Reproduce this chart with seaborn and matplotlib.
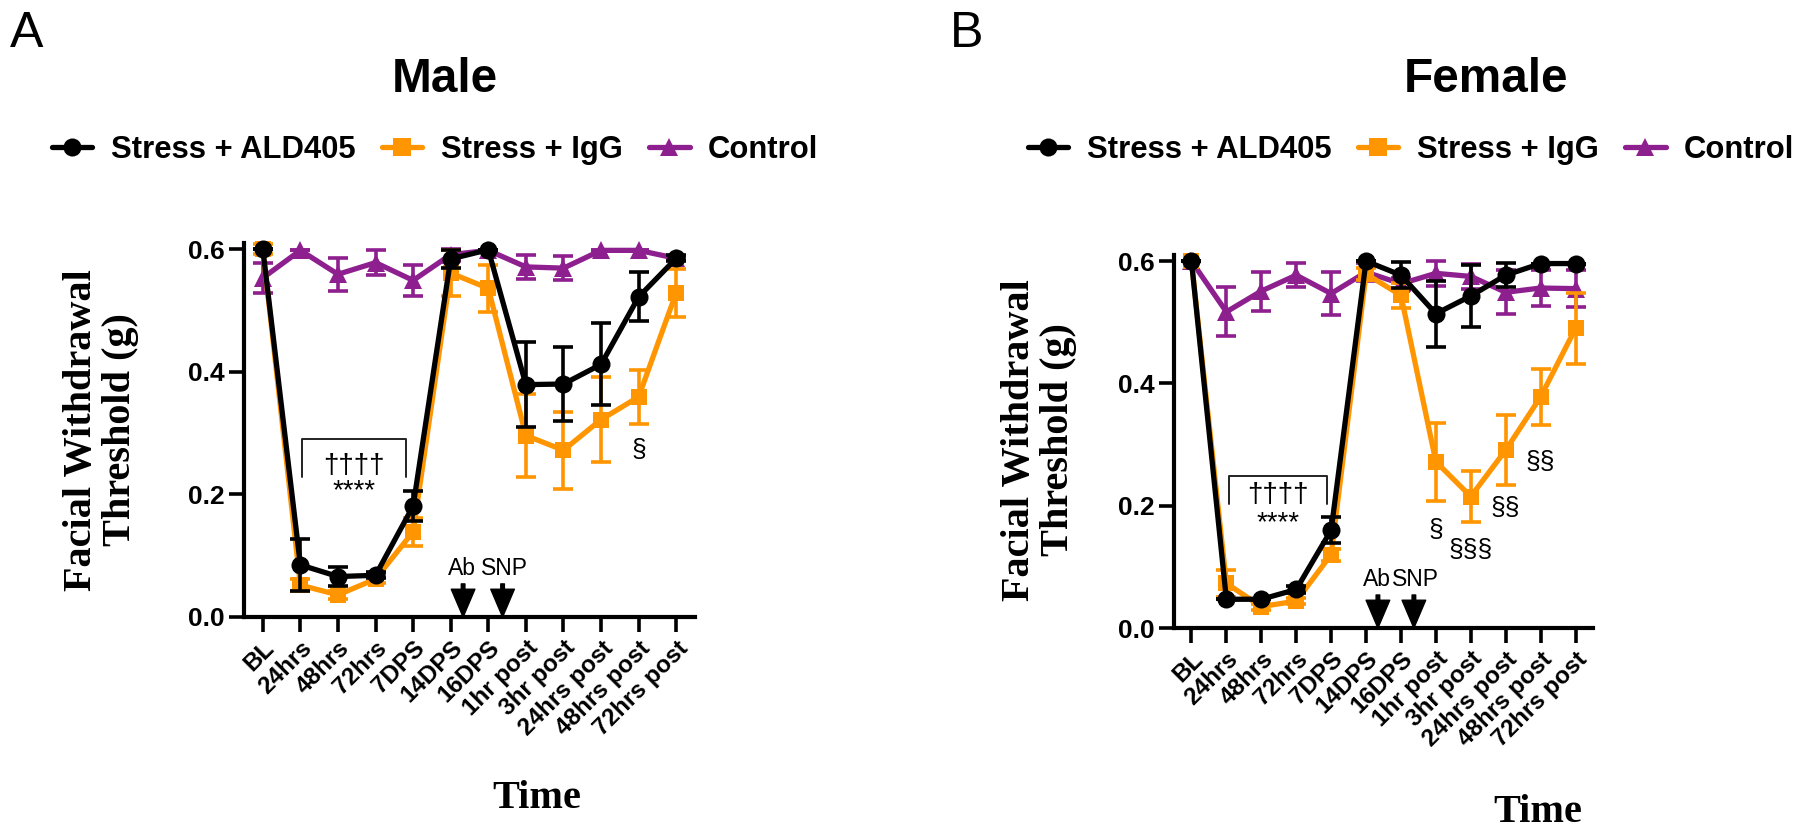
import numpy as np
import pandas as pd
import seaborn as sns
import matplotlib.pyplot as plt
from matplotlib.lines import Line2D
from matplotlib import font_manager

# time points on the x axis
time_labels = ['BL', '24hrs', '48hrs', '72hrs', '7DPS', '14DPS', '16DPS',
               '1hr post', '3hr post', '24hrs post', '48hrs post', '72hrs post']

# Male (mean, sem)
male_ald = [0.600, 0.085, 0.066, 0.068, 0.181, 0.584, 0.599, 0.379, 0.380, 0.412, 0.522, 0.585]
male_ald_sem = [0.0, 0.043, 0.016, 0.005, 0.024, 0.015, 0.0, 0.069, 0.060, 0.067, 0.040, 0.005]
male_igg = [0.600, 0.052, 0.036, 0.062, 0.139, 0.561, 0.536, 0.296, 0.272, 0.322, 0.359, 0.529]
male_igg_sem = [0.008, 0.010, 0.006, 0.006, 0.023, 0.037, 0.038, 0.068, 0.063, 0.070, 0.044, 0.039]
male_ctrl = [0.553, 0.598, 0.559, 0.578, 0.549, 0.591, 0.598, 0.571, 0.569, 0.598, 0.598, 0.585]
male_ctrl_sem = [0.024, 0.0, 0.027, 0.020, 0.025, 0.010, 0.0, 0.020, 0.020, 0.0, 0.0, 0.0]

# Female (mean, sem)
fem_ald = [0.600, 0.047, 0.047, 0.063, 0.160, 0.600, 0.577, 0.514, 0.543, 0.577, 0.596, 0.596]
fem_ald_sem = [0.0, 0.0, 0.0, 0.005, 0.021, 0.0, 0.021, 0.054, 0.051, 0.020, 0.0, 0.0]
fem_igg = [0.600, 0.073, 0.035, 0.044, 0.120, 0.579, 0.544, 0.272, 0.215, 0.291, 0.378, 0.490]
fem_igg_sem = [0.0, 0.022, 0.005, 0.005, 0.010, 0.010, 0.020, 0.064, 0.041, 0.057, 0.046, 0.058]
fem_ctrl = [0.600, 0.517, 0.551, 0.577, 0.547, 0.582, 0.563, 0.580, 0.575, 0.549, 0.556, 0.555]
fem_ctrl_sem = [0.0, 0.040, 0.032, 0.020, 0.035, 0.015, 0.010, 0.020, 0.020, 0.036, 0.029, 0.030]

groups = ['Stress + ALD405', 'Stress + IgG', 'Control']
colors = {'Stress + ALD405': '#000000', 'Stress + IgG': '#FF9500', 'Control': '#8E1F8E'}
markers = {'Stress + ALD405': 'o', 'Stress + IgG': 's', 'Control': '^'}
zorders = {'Stress + ALD405': 6, 'Stress + IgG': 5, 'Control': 4}

# significance marks: (x index, y, text)
male_sig = [(10, 0.272, '\u00a7')]
fem_sig = [(7, 0.160, '\u00a7'), (8, 0.128, '\u00a7\u00a7\u00a7'),
           (9, 0.196, '\u00a7\u00a7'), (10, 0.272, '\u00a7\u00a7')]

sns.set_theme(style='ticks', rc={'text.color': 'black', 'axes.labelcolor': 'black',
                                 'xtick.color': 'black', 'ytick.color': 'black'})
names = {f.name for f in font_manager.fontManager.ttflist}
NARROW = 'Liberation Sans Narrow' in names
SANS = 'Liberation Sans Narrow' if NARROW else 'Liberation Sans'
k = 1.0 if NARROW else 0.86
plt.rcParams['font.family'] = [SANS, 'DejaVu Sans']
SERIF = 'Liberation Serif'
PLAIN = ['Liberation Sans', 'DejaVu Sans']

fig = plt.figure(figsize=(18, 8.32), dpi=100)
W, H = 1800.0, 832.0


def px_axes(left, right, bottom, top):
    return fig.add_axes([left / W, 1 - bottom / H, (right - left) / W, (bottom - top) / H])


def draw_panel(ax, series, sig, bracket, sig_xy, arrows):
    x = np.arange(len(time_labels))
    for g in ['Control', 'Stress + IgG', 'Stress + ALD405']:
        mean, sem = series[g]
        df = pd.DataFrame({'x': x, 'y': mean})
        ax.errorbar(x, mean, yerr=sem, fmt='none', ecolor=colors[g], elinewidth=2.6,
                    capsize=7, capthick=2.6, zorder=zorders[g], clip_on=False)
        sns.lineplot(data=df, x='x', y='y', ax=ax, color=colors[g], lw=3.8,
                     marker=markers[g], markersize=13 if g != 'Stress + IgG' else 12,
                     markeredgewidth=0, zorder=zorders[g] + 0.5, clip_on=False)

    # bracket + stars
    bx0, bx1, btop, bbot = bracket
    ax.plot([bx0, bx0, bx1, bx1], [bbot, btop, btop, bbot], color='#222222', lw=1.4)
    tx, ty_dag, ty_ast = sig_xy
    ax.text(tx, ty_dag, '\u2020\u2020\u2020\u2020', ha='center', va='center',
            fontsize=20, family=PLAIN)
    ax.text(tx, ty_ast, '****', ha='center', va='center', fontsize=20, family=PLAIN)
    for xi, yi, s in sig:
        ax.text(xi, yi, s, ha='center', va='center', fontsize=19, family=PLAIN)

    # treatment arrows
    for xa, lab in arrows:
        ax.annotate('', xy=(xa, 0.0), xytext=(xa, 0.054),
                    arrowprops=dict(facecolor='black', edgecolor='black',
                                    width=2.6, headwidth=17, headlength=20, shrink=0),
                    zorder=7, annotation_clip=False)
    (xa0, lab0), (xa1, lab1) = arrows
    ax.text(xa0 - 0.04, 0.060, lab0, ha='center', va='bottom', fontsize=16.5, family=PLAIN)
    ax.text(xa1 + 0.06, 0.060, lab1, ha='center', va='bottom', fontsize=16.5, family=PLAIN)

    ax.set_xlim(-0.5, 11.5)
    ax.set_ylim(0, 0.61)
    ax.set_yticks([0.0, 0.2, 0.4, 0.6])
    ax.set_yticklabels(['0.0', '0.2', '0.4', '0.6'], fontsize=19, fontweight='bold')
    ax.set_xticks(x)
    ax.set_xticklabels(time_labels, rotation=45, ha='right', rotation_mode='anchor',
                       fontsize=17.5, fontweight='bold')
    ax.set_xlabel('')
    ax.set_ylabel('')
    ax.tick_params(axis='both', direction='out', length=11, width=2.6, pad=3)
    for sp in ['left', 'bottom']:
        ax.spines[sp].set_linewidth(3.0)
        ax.spines[sp].set_color('black')
    sns.despine(ax=ax)
    ax.grid(False)


ax_m = px_axes(244, 695, 617, 243)
draw_panel(ax_m,
           {'Stress + ALD405': (male_ald, male_ald_sem),
            'Stress + IgG': (male_igg, male_igg_sem),
            'Control': (male_ctrl, male_ctrl_sem)},
           male_sig, (1.03, 3.82, 0.290, 0.228), (2.42, 0.246, 0.205),
           [(5.33, 'Ab'), (6.38, 'SNP')])

ax_f = px_axes(1174, 1593, 628, 255)
draw_panel(ax_f,
           {'Stress + ALD405': (fem_ald, fem_ald_sem),
            'Stress + IgG': (fem_igg, fem_igg_sem),
            'Control': (fem_ctrl, fem_ctrl_sem)},
           fem_sig, (1.07, 3.87, 0.248, 0.202), (2.48, 0.217, 0.172),
           [(5.34, 'Ab'), (6.37, 'SNP')])

# titles, panel letters, axis titles
fig.text(445 / W, 1 - 92 / H, 'Male', ha='center', va='baseline',
         fontsize=40 * k, fontweight='bold')
fig.text(1486 / W, 1 - 92 / H, 'Female', ha='center', va='baseline',
         fontsize=40 * k, fontweight='bold')
fig.text(10 / W, 1 - 47 / H, 'A', ha='left', va='baseline', fontsize=42 * k)
fig.text(950 / W, 1 - 47 / H, 'B', ha='left', va='baseline', fontsize=42 * k)

ylab = 'Facial Withdrawal\nThreshold (g)'
fig.text(101 / W, 1 - 430 / H, ylab, rotation=90, ha='center', va='center',
         fontsize=29, fontweight='bold', family=SERIF, linespacing=1.1)
fig.text(1039 / W, 1 - 440 / H, ylab, rotation=90, ha='center', va='center',
         fontsize=29, fontweight='bold', family=SERIF, linespacing=1.1)
fig.text(537 / W, 1 - 798 / H, 'Time', ha='center', va='center',
         fontsize=29, fontweight='bold', family=SERIF)
fig.text(1538 / W, 1 - 813 / H, 'Time', ha='center', va='center',
         fontsize=29, fontweight='bold', family=SERIF)

# legends
handles = [Line2D([], [], color=colors[g], lw=3.8, marker=markers[g], markersize=13,
                  markeredgewidth=0) for g in groups]
for x0 in (52, 1028):
    fig.legend(handles, groups, loc='center left', bbox_to_anchor=(x0 / W, 1 - 150 / H),
               ncol=3, frameon=False, borderaxespad=0, borderpad=0,
               handlelength=1.3, handletextpad=0.6, columnspacing=0.85,
               prop={'family': [SANS, 'DejaVu Sans'], 'weight': 'bold', 'size': 26 * k})

fig.savefig('out.png', dpi=100)
